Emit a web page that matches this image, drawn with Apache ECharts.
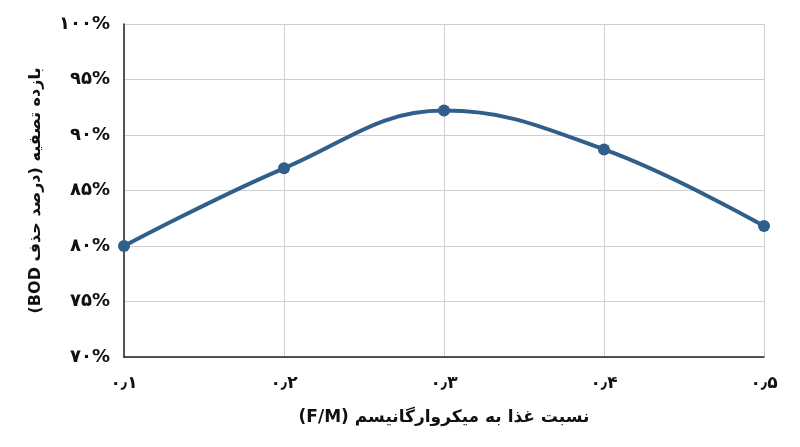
<!DOCTYPE html>
<html>
<head>
<meta charset="utf-8">
<script src="https://cdn.jsdelivr.net/npm/echarts@6/dist/echarts.min.js"></script>
<style>
  html, body { margin: 0; padding: 0; background: #fff; }
  #chart { width: 800px; height: 447px; }
</style>
</head>
<body>
<div id="chart"></div>
<script>
// F/M ratio vs BOD removal (%)
var fmRatio = ['0.1', '0.2', '0.3', '0.4', '0.5'];
var bodRemoval = [80.0, 87.0, 92.2, 88.7, 81.8];

var xTitle = 'نسبت غذا به میکروارگانیسم (F/M)';
var yTitle = 'بازده تصفیه (درصد حذف BOD)';

var faDigits = '۰۱۲۳۴۵۶۷۸۹';
function toFa(s) {
  return String(s).replace(/[0-9]/g, function (d) { return faDigits[+d]; }).replace('.', '٫');
}
// force right-to-left ordering inside the canvas
function rtl(s) { return '\u202B' + s + '\u202C'; }

var font = 'DejaVu Sans';
var chart = echarts.init(document.getElementById('chart'));

var option = {
  backgroundColor: '#fff',
  animation: false,
  grid: { left: 124, right: 36, top: 24, bottom: 90 },
  xAxis: {
    type: 'category',
    data: fmRatio,
    boundaryGap: false,
    name: rtl(xTitle),
    nameLocation: 'middle',
    nameGap: 52,
    nameTextStyle: { fontFamily: font, fontWeight: 'bold', fontSize: 17, color: '#111' },
    axisLine: { lineStyle: { color: '#222', width: 1.5 } },
    axisTick: { show: false },
    axisLabel: {
      margin: 18,
      fontFamily: font, fontWeight: 'bold', fontSize: 17, color: '#111',
      formatter: function (v) { return toFa(v); }
    },
    splitLine: { show: true, lineStyle: { color: '#cfcfcf', width: 1 } }
  },
  yAxis: {
    type: 'value',
    min: 70,
    max: 100,
    interval: 5,
    name: rtl(yTitle),
    nameLocation: 'middle',
    nameGap: 80,
    nameRotate: 90,
    nameTextStyle: { fontFamily: font, fontWeight: 'bold', fontSize: 16, color: '#111' },
    axisLine: { show: true, lineStyle: { color: '#222', width: 1.5 } },
    axisTick: { show: false },
    axisLabel: {
      margin: 14,
      fontFamily: font, fontWeight: 'bold', fontSize: 18, color: '#111',
      formatter: function (v) { return toFa(v) + '%'; }
    },
    splitLine: { lineStyle: { color: '#cfcfcf', width: 1 } }
  },
  series: [
    {
      type: 'line',
      data: bodRemoval,
      smooth: 0.4,
      symbol: 'circle',
      symbolSize: 12,
      lineStyle: { color: '#2f5f8a', width: 4 },
      itemStyle: { color: '#2f5f8a' }
    }
  ]
};
chart.setOption(option);
</script>
</body>
</html>
